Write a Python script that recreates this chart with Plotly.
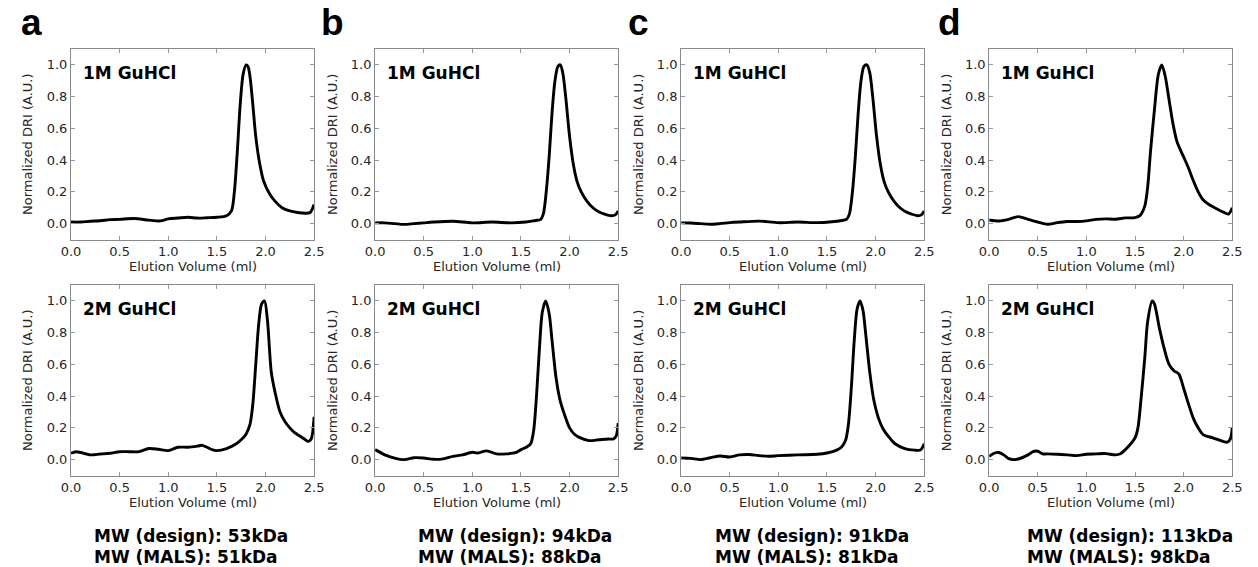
import plotly.graph_objects as go

# ---------------- data ----------------
a1_x = [0, 0.1, 0.2, 0.3, 0.4, 0.5, 0.65, 0.8, 0.92, 1.0, 1.1, 1.2, 1.3, 1.4, 1.5, 1.6, 1.65, 1.68, 1.71, 1.74,
        1.77, 1.80, 1.82, 1.84, 1.87, 1.90, 1.94, 1.98, 2.04, 2.10, 2.17, 2.25, 2.33, 2.41, 2.46, 2.5]
a1_y = [0.01, 0.01, 0.015, 0.018, 0.025, 0.027, 0.032, 0.022, 0.017, 0.03, 0.035, 0.04, 0.035, 0.037, 0.04, 0.05,
        0.08, 0.2, 0.45, 0.75, 0.94, 1.0, 0.99, 0.93, 0.75, 0.55, 0.38, 0.27, 0.19, 0.14, 0.10, 0.08, 0.07, 0.065,
        0.07, 0.12]

a2_x = [0, 0.05, 0.1, 0.2, 0.3, 0.4, 0.5, 0.6, 0.7, 0.8, 0.9, 1.0, 1.1, 1.2, 1.3, 1.35, 1.45, 1.5, 1.6, 1.7, 1.75,
        1.8, 1.84, 1.87, 1.9, 1.93, 1.96, 1.99, 2.02, 2.06, 2.1, 2.15, 2.2, 2.25, 2.3, 2.35, 2.4, 2.44, 2.47, 2.5]
a2_y = [0.04, 0.05, 0.045, 0.03, 0.035, 0.04, 0.05, 0.05, 0.05, 0.07, 0.065, 0.057, 0.078, 0.078, 0.085, 0.09,
        0.063, 0.057, 0.07, 0.1, 0.125, 0.16, 0.22, 0.35, 0.6, 0.85, 0.98, 1.0, 0.88, 0.55, 0.42, 0.3, 0.24, 0.2,
        0.17, 0.15, 0.13, 0.115, 0.13, 0.27]

b1_x = [0, 0.1, 0.2, 0.3, 0.4, 0.5, 0.6, 0.8, 1.0, 1.2, 1.4, 1.55, 1.65, 1.7, 1.73, 1.76, 1.79, 1.82, 1.85, 1.88,
        1.905, 1.93, 1.96, 2.0, 2.04, 2.08, 2.12, 2.18, 2.24, 2.3, 2.36, 2.43, 2.47, 2.5]
b1_y = [0.005, 0.005, 0.0, -0.005, 0.0, 0.005, 0.01, 0.015, 0.005, 0.01, 0.005, 0.01, 0.02, 0.025, 0.06, 0.2, 0.42,
        0.7, 0.9, 0.99, 1.0, 0.95, 0.8, 0.55, 0.37, 0.26, 0.2, 0.14, 0.1, 0.075, 0.06, 0.05, 0.055, 0.08]

b2_x = [0, 0.1, 0.2, 0.3, 0.4, 0.5, 0.6, 0.7, 0.8, 0.9, 1.0, 1.05, 1.15, 1.25, 1.35, 1.45, 1.5, 1.56, 1.6, 1.63,
        1.66, 1.69, 1.72, 1.755, 1.79, 1.82, 1.86, 1.9, 1.95, 2.0, 2.05, 2.1, 2.2, 2.3, 2.4, 2.45, 2.48, 2.5]
b2_y = [0.063, 0.03, 0.01, 0.0, 0.012, 0.01, 0.002, 0.005, 0.02, 0.03, 0.046, 0.042, 0.055, 0.036, 0.036, 0.045,
        0.063, 0.08, 0.1, 0.18, 0.4, 0.7, 0.93, 1.0, 0.92, 0.75, 0.52, 0.38, 0.28, 0.2, 0.16, 0.14, 0.12, 0.125,
        0.13, 0.13, 0.15, 0.23]

c1_x = [0, 0.1, 0.2, 0.3, 0.4, 0.5, 0.6, 0.8, 1.0, 1.2, 1.4, 1.55, 1.65, 1.7, 1.73, 1.76, 1.79, 1.82, 1.85, 1.88,
        1.91, 1.94, 1.97, 2.01, 2.05, 2.09, 2.13, 2.19, 2.25, 2.31, 2.37, 2.43, 2.47, 2.5]
c1_y = [0.005, 0.004, 0.0, -0.004, 0.0, 0.006, 0.01, 0.016, 0.006, 0.01, 0.006, 0.012, 0.02, 0.027, 0.06, 0.19,
        0.41, 0.69, 0.9, 0.99, 1.0, 0.95, 0.8, 0.55, 0.37, 0.26, 0.2, 0.14, 0.1, 0.075, 0.06, 0.05, 0.055, 0.08]

c2_x = [0, 0.1, 0.2, 0.3, 0.4, 0.5, 0.6, 0.7, 0.8, 0.9, 1.0, 1.2, 1.4, 1.5, 1.6, 1.65, 1.69, 1.72, 1.75, 1.78,
        1.81, 1.84, 1.87, 1.9, 1.94, 1.98, 2.03, 2.08, 2.14, 2.2, 2.3, 2.4, 2.46, 2.5]
c2_y = [0.01, 0.008, 0.0, 0.012, 0.023, 0.017, 0.03, 0.032, 0.025, 0.021, 0.025, 0.03, 0.034, 0.042, 0.06, 0.08,
        0.12, 0.22, 0.45, 0.75, 0.95, 1.0, 0.94, 0.78, 0.55, 0.38, 0.26, 0.19, 0.14, 0.1, 0.07, 0.06, 0.06, 0.1]

d1_x = [0, 0.1, 0.2, 0.3, 0.4, 0.5, 0.6, 0.7, 0.8, 0.9, 1.0, 1.1, 1.2, 1.3, 1.4, 1.5, 1.55, 1.6, 1.63, 1.66, 1.7,
        1.74, 1.775, 1.81, 1.85, 1.89, 1.93, 1.97, 2.0, 2.05, 2.1, 2.15, 2.2, 2.26, 2.32, 2.4, 2.46, 2.5]
d1_y = [0.023, 0.017, 0.027, 0.044, 0.027, 0.01, -0.004, 0.006, 0.013, 0.013, 0.017, 0.027, 0.03, 0.028, 0.036,
        0.038, 0.05, 0.11, 0.23, 0.46, 0.72, 0.94, 1.0, 0.93, 0.78, 0.63, 0.52, 0.46, 0.42, 0.35, 0.27, 0.2, 0.15,
        0.12, 0.1, 0.075, 0.06, 0.1]

d2_x = [0, 0.05, 0.1, 0.15, 0.2, 0.25, 0.3, 0.4, 0.45, 0.5, 0.55, 0.6, 0.7, 0.8, 0.9, 1.0, 1.1, 1.2, 1.3, 1.35,
        1.4, 1.45, 1.5, 1.53, 1.56, 1.6, 1.63, 1.677, 1.7, 1.75, 1.8, 1.85, 1.9, 1.95, 2.0, 2.05, 2.1, 2.15, 2.2,
        2.3, 2.4, 2.45, 2.48, 2.5]
d2_y = [0.02, 0.04, 0.045, 0.03, 0.006, 0.0, 0.004, 0.03, 0.05, 0.053, 0.036, 0.036, 0.034, 0.03, 0.025, 0.034,
        0.036, 0.038, 0.03, 0.037, 0.063, 0.095, 0.137, 0.2, 0.37, 0.64, 0.87, 1.0, 0.98, 0.83, 0.7, 0.6, 0.56,
        0.54, 0.45, 0.35, 0.26, 0.2, 0.158, 0.137, 0.116, 0.11, 0.13, 0.2]

panel_letters = ["a", "b", "c", "d"]
conditions = ["1M GuHCl", "2M GuHCl"]
mw_design = ["53kDa", "94kDa", "91kDa", "113kDa"]
mw_mals = ["51kDa", "88kDa", "81kDa", "98kDa"]
x_ticks = [0.0, 0.5, 1.0, 1.5, 2.0, 2.5]
y_ticks = [0.0, 0.2, 0.4, 0.6, 0.8, 1.0]

series = [
    [(a1_x, a1_y), (a2_x, a2_y)],
    [(b1_x, b1_y), (b2_x, b2_y)],
    [(c1_x, c1_y), (c2_x, c2_y)],
    [(d1_x, d1_y), (d2_x, d2_y)],
]

# ---------------- layout geometry (pixels) ----------------
W, H = 1258, 567
col_left = [62, 371, 682, 995]
plot_w = 247
row_top = [49, 285]
plot_h = 190.5
letter_x = [21.5, 328, 638.5, 955]
mw_x = [83, 413, 714, 1031]


def fx(px):
    return px / W


def fy(py):
    return 1 - py / H


FONT = "DejaVu Sans"
TXT = "#262626"
fig = go.Figure()
annotations = []
layout_axes = {}

idx = 0
for c in range(4):
    for r in range(2):
        idx += 1
        sfx = "" if idx == 1 else str(idx)
        xs, ys = series[c][r]
        fig.add_trace(go.Scatter(
            x=xs, y=ys, mode="lines",
            line=dict(color="black", width=2.9, shape="spline", smoothing=0.8),
            xaxis="x" + sfx, yaxis="y" + sfx, showlegend=False, hoverinfo="skip"))
        L = col_left[c]
        T = row_top[r]
        common = dict(showgrid=False, zeroline=False, showline=True, linecolor="#8a8a8a", linewidth=1,
                      mirror="ticks", ticks="inside", ticklen=4, tickwidth=1, tickcolor="#9a9a9a",
                      tickfont=dict(family=FONT, size=13, color=TXT))
        layout_axes["xaxis" + sfx] = dict(
            domain=[fx(L), fx(L + plot_w)], range=[0, 2.5], tickvals=x_ticks,
            ticktext=[f"{v:.1f}" for v in x_ticks], anchor="y" + sfx, **common)
        layout_axes["yaxis" + sfx] = dict(
            domain=[fy(T + plot_h), fy(T)], range=[-0.1, 1.1], tickvals=y_ticks,
            ticktext=[f"{v:.1f}" for v in y_ticks], anchor="x" + sfx, **common)
        # condition label
        annotations.append(dict(
            text="<b>" + conditions[r] + "</b>", xref="paper", yref="paper",
            x=fx(L + 10), y=fy(T + 24), xanchor="left", yanchor="middle", showarrow=False,
            font=dict(family=FONT, size=17, color="black")))
        # y title
        annotations.append(dict(
            text="Normalized DRI (A.U.)", xref="paper", yref="paper", textangle=-90,
            x=fx(L - 44), y=fy(T + plot_h / 2), xanchor="center", yanchor="middle", showarrow=False,
            font=dict(family=FONT, size=13, color=TXT)))
        # x title
        annotations.append(dict(
            text="Elution Volume (ml)", xref="paper", yref="paper",
            x=fx(L + plot_w / 2), y=fy(T + plot_h + 26.5), xanchor="center", yanchor="middle",
            showarrow=False, font=dict(family=FONT, size=13, color=TXT)))

    annotations.append(dict(
        text="<b>" + panel_letters[c] + "</b>", xref="paper", yref="paper",
        x=fx(letter_x[c]), y=fy(22), xanchor="center", yanchor="middle", showarrow=False,
        font=dict(family="Liberation Sans", size=37, color="black")))
    annotations.append(dict(
        text="<b>MW (design): " + mw_design[c] + "</b>", xref="paper", yref="paper",
        x=fx(mw_x[c]), y=fy(536), xanchor="left", yanchor="middle", showarrow=False,
        font=dict(family=FONT, size=17, color="black")))
    annotations.append(dict(
        text="<b>MW (MALS): " + mw_mals[c] + "</b>", xref="paper", yref="paper",
        x=fx(mw_x[c]), y=fy(557), xanchor="left", yanchor="middle", showarrow=False,
        font=dict(family=FONT, size=17, color="black")))

fig.update_layout(
    width=W, height=H, margin=dict(l=0, r=0, t=0, b=0),
    paper_bgcolor="white", plot_bgcolor="white",
    annotations=annotations, **layout_axes)

fig.write_html("out.html")
